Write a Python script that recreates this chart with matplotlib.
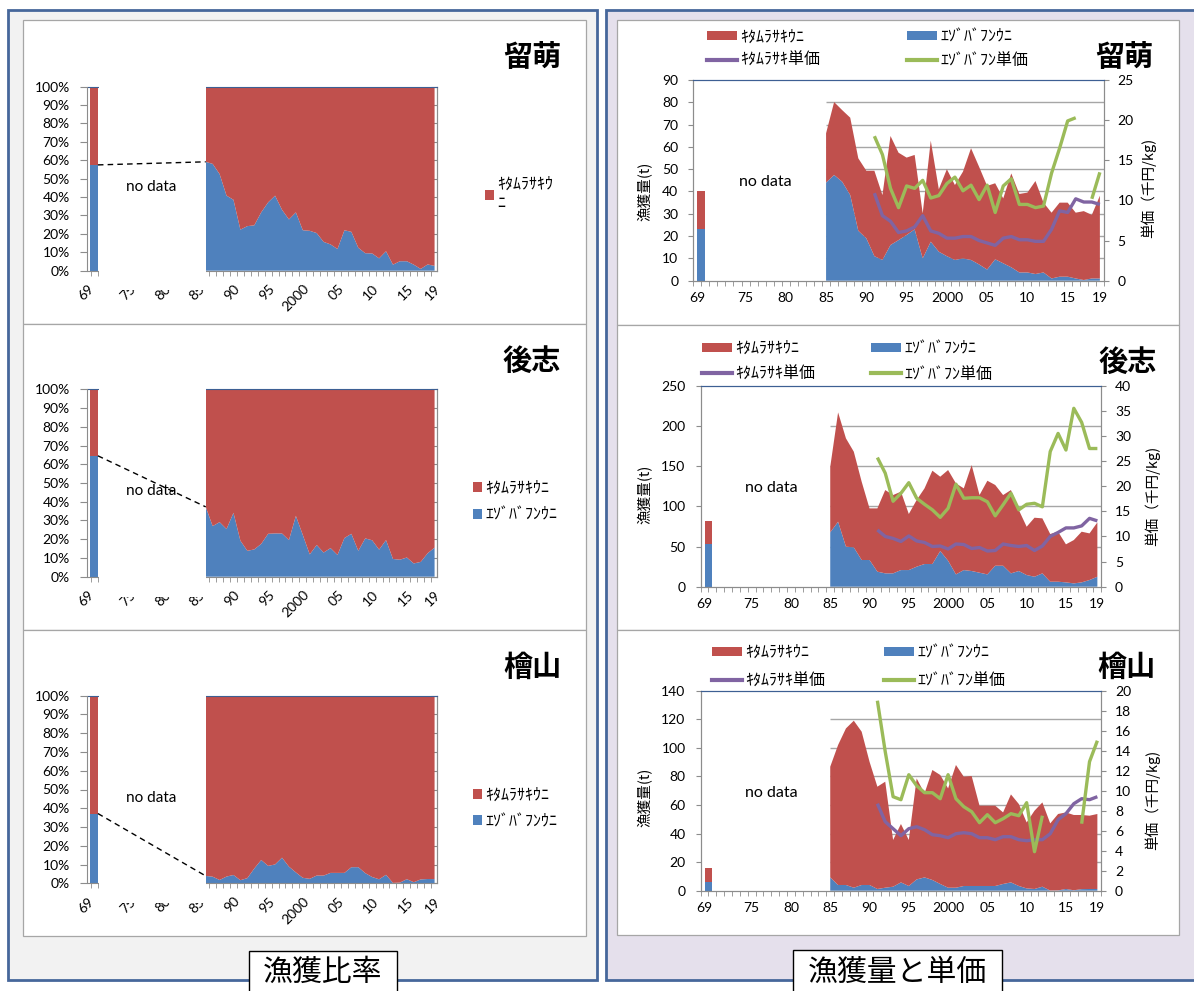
import numpy as np
import matplotlib
matplotlib.use("Agg")
import matplotlib.pyplot as plt
from matplotlib.patches import Rectangle, Patch
from matplotlib.lines import Line2D
from matplotlib import transforms

# ---------------------------------------------------------------- data
YEARS = np.arange(1985, 2020)          # continuous series 1985-2019
PRICE_YEARS = np.arange(1991, 2020)    # unit price series 1991-2019
OLD_YEAR = 1969                        # single old survey year
RATIO_START = 1986                     # first year of the share chart
TICK_YEARS = [1969, 1975, 1980, 1985, 1990, 1995, 2000, 2005, 2010, 2015, 2019]
TICK_TEXT = ['69', '75', '80', '85', '90', '95', '2000', '05', '10', '15', '19']

REGIONS = ['留萌', '後志', '檜山']
KITA_LABEL = 'ｷﾀﾑﾗｻｷｳﾆ'
EZO_LABEL = 'ｴｿﾞﾊﾞﾌﾝｳﾆ'
KITA_PRICE_LABEL = 'ｷﾀﾑﾗｻｷ単価'
EZO_PRICE_LABEL = 'ｴｿﾞﾊﾞﾌﾝ単価'

# catch in 1969 (t), order follows REGIONS
kita_1969 = [17.0, 29.0, 9.8]
ezo_1969 = [23.0, 52.7, 5.8]

# catch 1985-2019 (t)
rumoi_kita = [22.1, 32.7, 32.1, 34.7, 32.5, 30.3, 38.3, 29.1, 48.9, 39.2,
              34.7, 33.4, 20.2, 45.3, 28.0, 39.0, 33.6, 38.9, 50.1, 43.8,
              37.5, 34.1, 29.1, 42.1, 35.2, 35.8, 41.7, 31.3, 29.5, 33.2,
              33.2, 29.5, 30.9, 28.5, 37.1]
rumoi_ezo = [44.0, 47.4, 44.4, 38.4, 22.4, 19.0, 11.0, 9.3, 16.0, 18.2,
             20.5, 23.0, 10.0, 17.5, 13.0, 11.0, 9.3, 10.0, 9.3, 7.3,
             5.0, 9.6, 7.8, 6.0, 3.7, 3.7, 3.0, 3.7, 1.0, 1.8,
             1.8, 1.0, 0.3, 1.0, 1.0]
shiribeshi_kita = [81.4, 136.0, 134.7, 119.0, 97.4, 64.2, 78.7, 103.6, 97.4, 97.5,
                   69.7, 82.9, 94.1, 116.1, 92.4, 112.8, 113.2, 101.6, 131.8, 96.6,
                   116.5, 100.4, 87.9, 103.6, 75.9, 60.1, 73.4, 68.4, 59.3, 62.2,
                   47.3, 53.9, 63.0, 58.0, 67.6]
shiribeshi_ezo = [67.6, 80.8, 49.8, 48.9, 33.2, 33.2, 18.7, 16.6, 16.6, 20.7,
                  20.7, 24.9, 28.2, 28.2, 44.4, 32.3, 15.3, 20.7, 19.5, 17.4,
                  15.3, 26.1, 26.1, 16.6, 19.5, 14.5, 12.4, 16.6, 6.2, 6.2,
                  5.4, 4.1, 5.4, 8.3, 12.4]
hiyama_kita = [77.5, 98.0, 109.6, 116.9, 107.3, 86.3, 71.6, 74.2, 32.7, 40.9,
               32.2, 70.7, 58.8, 77.0, 76.3, 69.5, 85.9, 76.5, 77.0, 56.2,
               56.2, 56.2, 50.1, 61.6, 57.4, 46.2, 54.8, 59.0, 47.0, 53.5,
               53.6, 52.7, 51.9, 51.3, 52.5]
hiyama_ezo = [9.3, 4.0, 4.0, 2.1, 4.0, 4.0, 1.2, 2.1, 2.8, 5.8,
              3.3, 7.9, 9.3, 7.5, 4.7, 2.1, 2.1, 3.3, 3.3, 3.3,
              3.3, 3.3, 4.7, 5.8, 3.3, 1.6, 1.2, 2.8, 0.1, 0.2,
              1.2, 0.3, 1.1, 1.2, 1.2]

# unit price 1991-2019 (thousand yen / kg); nan = not recorded
nan = np.nan
rumoi_kita_price = [10.9, 8.1, 7.4, 6.0, 6.2, 6.7, 8.1, 6.2, 5.9, 5.3,
                    5.3, 5.5, 5.5, 5.0, 4.7, 4.4, 5.3, 5.5, 5.1, 5.1,
                    4.9, 4.9, 6.4, 8.7, 8.5, 10.2, 9.8, 9.8, 9.5]
rumoi_ezo_price = [18.0, 15.7, 11.5, 9.1, 11.8, 11.5, 12.5, 10.3, 10.6, 12.1,
                   12.9, 11.2, 11.9, 10.1, 11.9, 8.5, 11.8, 12.7, 9.5, 9.5,
                   9.1, 9.3, 13.4, 16.5, 19.9, 20.3, nan, 10.2, 13.5]
shiribeshi_kita_price = [11.3, 10.0, 9.6, 9.0, 10.1, 9.1, 8.8, 8.0, 8.1, 7.5,
                         8.5, 8.4, 7.6, 7.8, 7.1, 7.2, 8.5, 8.2, 8.0, 8.2,
                         7.2, 8.1, 10.0, 10.8, 11.7, 11.7, 12.1, 13.6, 13.1]
shiribeshi_ezo_price = [25.7, 22.6, 17.0, 18.6, 20.7, 17.6, 16.4, 15.3, 13.8, 15.6,
                        20.4, 17.6, 17.7, 17.7, 16.9, 14.1, 16.3, 18.6, 15.3, 16.4,
                        16.6, 15.9, 26.9, 30.5, 27.2, 35.5, 32.7, 27.5, 27.5]
hiyama_kita_price = [8.7, 6.9, 6.2, 5.5, 6.2, 6.4, 6.1, 5.6, 5.5, 5.3,
                     5.7, 5.8, 5.7, 5.3, 5.3, 5.1, 5.4, 5.4, 5.1, 5.0,
                     5.1, 5.1, 5.7, 7.1, 7.7, 8.7, 9.2, 9.1, 9.4]
hiyama_ezo_price = [19.0, 13.9, 9.4, 9.1, 11.6, 10.5, 9.8, 9.8, 9.2, 11.6,
                    9.2, 8.4, 7.9, 6.8, 7.6, 6.8, 7.2, 7.7, 7.5, 8.8,
                    3.9, 7.5, nan, nan, nan, nan, 6.7, 12.9, 15.0]

# axis ranges of the catch / price charts
catch_max = [90, 250, 140]
catch_step = [10, 50, 20]
price_max = [25, 40, 20]
price_step = [5, 5, 2]

# ---------------------------------------------------------------- style
W, H = 1194, 991
RED, BLUE, PURPLE, GREEN = '#c0504d', '#4f81bd', '#8064a2', '#9bbb59'
AXIS_GRAY = '#8c8c8c'
TOP_BLUE = '#3d5f93'
JP = ['Noto Sans CJK JP', 'DejaVu Sans']
plt.rcParams['font.family'] = ['Lato', 'Noto Sans CJK JP', 'DejaVu Sans']
plt.rcParams['font.size'] = 10

fig = plt.figure(figsize=(W / 100, H / 100), dpi=100)
fig.patch.set_facecolor('white')


def rect_px(l, t, r, b):
    return [l / W, 1 - b / H, (r - l) / W, (b - t) / H]


def box(l, t, r, b, z=-5, **kw):
    fig.add_artist(Rectangle((l / W, 1 - b / H), (r - l) / W, (b - t) / H,
                             transform=fig.transFigure, zorder=z, **kw))


def ftext(x, y, s, **kw):
    fig.text(x / W, 1 - y / H, s, **kw)


def legend_row(handle, label, x, y, hl, hh, fs=11.5):
    em = fs * 100 / 72
    fig.legend([handle], [label], loc='center left',
               bbox_to_anchor=(x / W, 1 - y / H), frameon=False,
               borderpad=0, borderaxespad=0, handlelength=hl / em,
               handleheight=hh / em, handletextpad=0.22,
               prop={'family': JP, 'size': fs})


# ---------------------------------------------------------------- frames
box(8, 10, 597, 980, facecolor='#f2f2f2', edgecolor='#46679b', lw=2)
box(606, 10, 1210, 980, facecolor='#e5e0ec', edgecolor='#46679b', lw=2)
for t, b in [(20, 324), (324, 630), (630, 936)]:
    box(23, t, 586, b, z=-4, facecolor='white', edgecolor='#a6a6a6', lw=0.9)
for t, b in [(20, 325), (325, 630), (630, 935)]:
    box(617, t, 1179, b, z=-4, facecolor='white', edgecolor='#a6a6a6', lw=0.9)

box(249, 951, 397, 1000, z=3, facecolor='white', edgecolor='black', lw=1)
ftext(323, 972, '漁獲比率', ha='center', va='center', fontsize=21.5,
      family=JP, zorder=4)
box(793, 950, 1002, 1000, z=3, facecolor='white', edgecolor='black', lw=1)
ftext(897.5, 972, '漁獲量と単価', ha='center', va='center', fontsize=21.5,
      family=JP, zorder=4)

kita_all = [rumoi_kita, shiribeshi_kita, hiyama_kita]
ezo_all = [rumoi_ezo, shiribeshi_ezo, hiyama_ezo]
kita_price_all = [rumoi_kita_price, shiribeshi_kita_price, hiyama_kita_price]
ezo_price_all = [rumoi_ezo_price, shiribeshi_ezo_price, hiyama_ezo_price]

# ---------------------------------------------------------------- share charts
ratio_rows = [(86.7, 270.7), (389.3, 576.7), (695.7, 883.3)]
title_left_y = [57, 361, 667]
BAR_LEFT, BAR_W = 1969.3, 1.15

for i, (t, b) in enumerate(ratio_rows):
    ax = fig.add_axes(rect_px(87.5, t, 437, b))
    kita = np.asarray(kita_all[i])
    ezo = np.asarray(ezo_all[i])
    share_ezo = 100 * ezo / (kita + ezo)
    sel = YEARS >= RATIO_START
    s69 = 100 * ezo_1969[i] / (kita_1969[i] + ezo_1969[i])

    ax.bar(BAR_LEFT, s69, width=BAR_W, align='edge', color=BLUE, lw=0)
    ax.bar(BAR_LEFT, 100 - s69, bottom=s69, width=BAR_W, align='edge',
           color=RED, lw=0)
    ax.stackplot(YEARS[sel], share_ezo[sel], 100 - share_ezo[sel],
                 colors=[BLUE, RED], lw=0)

    ax.set_xlim(1968.95, 2019.35)
    ax.set_ylim(0, 100)
    ax.set_yticks(np.arange(0, 101, 10))
    ax.set_yticklabels([f'{v}%' for v in range(0, 101, 10)])
    ax.set_xticks(TICK_YEARS)
    ax.set_xticklabels(TICK_TEXT, rotation=45, ha='right', va='top',
                       rotation_mode='anchor')
    ax.set_xticks(np.arange(1969.5, 2019.5, 1), minor=True)
    ax.tick_params(axis='x', which='major', length=0, pad=8.5, labelsize=10)
    ax.tick_params(axis='x', which='minor', length=3.5, color=AXIS_GRAY)
    ax.tick_params(axis='y', length=4.8, color=AXIS_GRAY, pad=8, labelsize=10)
    for side in ['left', 'bottom', 'right']:
        ax.spines[side].set_color(AXIS_GRAY)
    ax.spines['top'].set_color(TOP_BLUE)
    sec = ax.secondary_yaxis('right')
    sec.set_yticks(np.arange(0, 101, 10))
    sec.tick_params(direction='in', length=4, color=AXIS_GRAY, labelright=False)
    sec.spines['right'].set_color(AXIS_GRAY)

    # blank band over the years without records
    blend = transforms.blended_transform_factory(ax.transData, ax.transAxes)
    ax.add_patch(Rectangle((BAR_LEFT + BAR_W + 0.1, -0.106),
                           RATIO_START - 0.03 - (BAR_LEFT + BAR_W + 0.1), 1.13,
                           transform=blend, facecolor='white', edgecolor='none',
                           zorder=5, clip_on=False))
    ax.plot([BAR_LEFT + BAR_W, RATIO_START], [s69, share_ezo[sel][0]],
            color='black', lw=1, ls=(0, (4, 3)), zorder=6, clip_on=False)
    ax.text(1978.2, 45.5, 'no data', ha='center', va='center', fontsize=11,
            zorder=7)

    ftext(532, title_left_y[i], REGIONS[i], ha='center', va='center',
          fontsize=21, fontweight='bold', family=JP)

# share-chart legends
legend_row(Patch(facecolor=RED), 'ｷﾀﾑﾗｻｷｳ\nﾆ', 485, 194, 9, 9)
for y0 in (488.5, 795):
    legend_row(Patch(facecolor=RED), KITA_LABEL, 473, y0, 9, 9)
    legend_row(Patch(facecolor=BLUE), EZO_LABEL, 473, y0 + 26.5, 9, 9)

# ---------------------------------------------------------------- catch / price charts
catch_rects = [(693.2, 80, 1103.9, 280.7), (700.6, 385.7, 1101.3, 586.7),
               (700.6, 690.7, 1101.3, 890.7)]
ylabel_left = [(645, 191.7), (645, 494), (645, 797)]
ylabel_right = [(1148, 188), (1152.7, 495.7), (1152.7, 800)]
title_right = [(1124, 57), (1128, 362), (1127, 667)]
legend_cols = [(707, 907), (702, 871), (712, 884)]
legend_rows_y = [(37, 60.7), (348.5, 374), (652.5, 681)]

for i, r in enumerate(catch_rects):
    ax = fig.add_axes(rect_px(*r))
    ax2 = ax.twinx()
    kita = np.asarray(kita_all[i])
    ezo = np.asarray(ezo_all[i])

    ax.bar(OLD_YEAR, ezo_1969[i], width=1.0, align='edge', color=BLUE, lw=0)
    ax.bar(OLD_YEAR, kita_1969[i], bottom=ezo_1969[i], width=1.0,
           align='edge', color=RED, lw=0)
    ax.stackplot(YEARS, ezo, kita, colors=[BLUE, RED], lw=0, zorder=2)

    yt = np.arange(0, catch_max[i] + 1, catch_step[i])
    ax.hlines(yt[1:-1], YEARS[0], 2019.5, color='#a6a6a6', lw=1, zorder=1)

    ax2.plot(PRICE_YEARS, kita_price_all[i], color=PURPLE, lw=2.4,
             solid_joinstyle='round', solid_capstyle='butt')
    ax2.plot(PRICE_YEARS, ezo_price_all[i], color=GREEN, lw=2.4,
             solid_joinstyle='round', solid_capstyle='butt')

    ax.set_xlim(1968.5, 2019.5)
    ax.set_ylim(0, catch_max[i])
    ax.set_yticks(yt)
    ax2.set_ylim(0, price_max[i])
    ax2.set_yticks(np.arange(0, price_max[i] + 1, price_step[i]))
    ax.set_xticks(TICK_YEARS)
    ax.set_xticklabels(TICK_TEXT)
    ax.set_xticks(np.arange(1968.5, 2020, 1), minor=True)
    ax.tick_params(axis='x', which='major', length=0, pad=8, labelsize=10)
    ax.tick_params(axis='x', which='minor', length=3.5, color=AXIS_GRAY)
    ax.tick_params(axis='y', length=3.8, color=AXIS_GRAY, pad=7, labelsize=10)
    ax2.tick_params(axis='y', length=3.8, color=AXIS_GRAY, pad=6, labelsize=10)
    for a in (ax, ax2):
        for side in ['left', 'bottom', 'right']:
            a.spines[side].set_color(AXIS_GRAY)
        a.spines['top'].set_color(TOP_BLUE)

    ax.text(1977.5, 0.49, 'no data',
            transform=transforms.blended_transform_factory(ax.transData, ax.transAxes),
            ha='center', va='center', fontsize=11.5)

    ftext(*ylabel_left[i], '漁獲量(t)', rotation=90, ha='center', va='center',
          fontsize=10.5, family=JP)
    ftext(*ylabel_right[i], '単価（千円/kg)', rotation=90, ha='center',
          va='center', fontsize=10.5, family=JP)
    ftext(*title_right[i], REGIONS[i], ha='center', va='center', fontsize=21,
          fontweight='bold', family=JP)

    c1, c2 = legend_cols[i]
    y1, y2 = legend_rows_y[i]
    legend_row(Patch(facecolor=RED), KITA_LABEL, c1, y1, 30, 8)
    legend_row(Patch(facecolor=BLUE), EZO_LABEL, c2, y1, 30, 8)
    legend_row(Line2D([], [], color=PURPLE, lw=3), KITA_PRICE_LABEL, c1, y2, 30, 8)
    legend_row(Line2D([], [], color=GREEN, lw=3), EZO_PRICE_LABEL, c2, y2, 30, 8)

fig.savefig('out.png', dpi=100)
